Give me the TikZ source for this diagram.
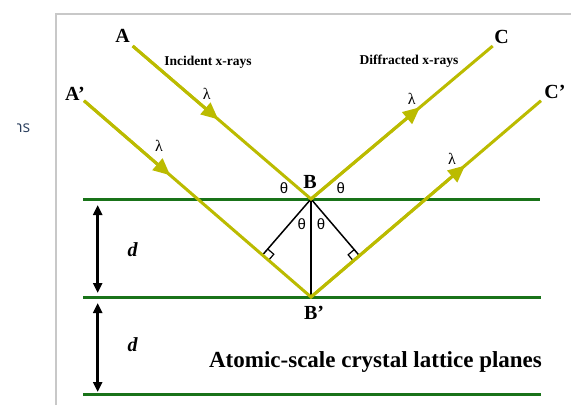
\documentclass[tikz,border=0pt]{standalone}
\usepackage{fontspec}
\setmainfont{Liberation Serif}
\newfontfamily\thsans{Liberation Sans}
\newfontfamily\uisans{Open Sans}
\usetikzlibrary{calc,arrows.meta}
\definecolor{rayc}{RGB}{187,187,0}
\definecolor{planec}{RGB}{25,115,25}
\definecolor{framec}{RGB}{200,200,200}
\definecolor{uic}{RGB}{45,65,95}
\tikzset{
  ray/.style={draw=rayc, line width=3pt},
  raytip/.style={draw=rayc, line width=3pt, -{Triangle[length=17pt,width=15pt]}},
  plane/.style={draw=planec, line width=3pt},
  perp/.style={draw=black, line width=1.5pt},
  darrow/.style={draw=black, line width=2.5pt, {Triangle[length=10pt,width=9pt]}-{Triangle[length=10pt,width=9pt]}},
  ptlabel/.style={font=\fontsize{20}{20}\selectfont\bfseries, inner sep=0pt},
  lam/.style={font=\fontsize{16}{16}\selectfont, inner sep=0pt},
  th/.style={font=\thsans\fontsize{15}{15}\selectfont, inner sep=0pt},
  small/.style={font=\fontsize{13.5}{13.5}\selectfont\bfseries, inner sep=0pt},
  dlab/.style={font=\fontsize{20}{20}\selectfont\bfseries\itshape, inner sep=0pt}
}
\begin{document}
\begin{tikzpicture}[x=1pt,y=-1pt]
\useasboundingbox (0,0) rectangle (571,405);
% frame
\draw[draw=framec, line width=1.5pt] (56,405) -- (56,14) -- (571,14);
\begin{scope}
\clip (17,100) rectangle (40,150);
\node[anchor=base east, text=uic, font=\uisans\fontsize{16}{16}\selectfont, inner sep=0pt] (ns) at (30.5,132) {ns};
\end{scope}
% key points
\coordinate (A0) at (132.7,46);
\coordinate (Ap) at (84,100.7);
\coordinate (B) at (311,199);
\coordinate (Bp) at (311,297);
\coordinate (C0) at (492.7,46);
\coordinate (Cp) at (541,100.7);
% planes
\coordinate (P1l) at (83,199); \coordinate (P1r) at (540,199);
\coordinate (P2l) at (83,297); \coordinate (P2r) at (541,297);
\coordinate (P3l) at (83,394); \coordinate (P3r) at (541,394);
\draw[plane] (P1l) -- (P1r);
\draw[plane] (P2l) -- (P2r);
\draw[plane] (P3l) -- (P3r);
% perpendiculars
\coordinate (F1) at ($(Ap)!(B)!(Bp)$);
\coordinate (F2) at ($(Cp)!(B)!(Bp)$);
\draw[perp] (B) -- (Bp);
\draw[perp] (B) -- (F1);
\draw[perp] (B) -- (F2);
\draw[perp, line width=1.2pt] ($(F1)!8pt!(Bp)$) -- ($($(F1)!8pt!(Bp)$)+($(F1)!8pt!(B)$)-(F1)$) -- ($(F1)!8pt!(B)$);
\draw[perp, line width=1.2pt] ($(F2)!8pt!(Bp)$) -- ($($(F2)!8pt!(Bp)$)+($(F2)!8pt!(B)$)-(F2)$) -- ($(F2)!8pt!(B)$);
% rays
\draw[ray] (A0) -- (B) -- (C0);
\draw[ray] (Ap) -- (Bp) -- (Cp);
\draw[raytip] (A0) -- ($(A0)!0.48!(B)$);
\draw[raytip] (Ap) -- ($(Ap)!0.38!(Bp)$);
\draw[raytip] (B) -- ($(B)!0.6!(C0)$);
\draw[raytip] (Bp) -- ($(Bp)!0.67!(Cp)$);
% d arrows
\coordinate (D1t) at (97.7,205); \coordinate (D1b) at (97.7,293);
\coordinate (D2t) at (97.7,303); \coordinate (D2b) at (97.7,392);
\draw[darrow] (D1t) -- (D1b);
\draw[darrow] (D2t) -- (D2b);
\node[dlab] (d1) at (132.7,250) {d};
\node[dlab] (d2) at (132.7,345) {d};
% labels
\node[ptlabel] (lA) at (122.7,36) {A};
\node[ptlabel] (lAp) at (75,94) {A’};
\node[ptlabel] (lC) at (501.7,37) {C};
\node[ptlabel] (lCp) at (555,92) {C’};
\node[ptlabel] (lB) at (310,182) {B};
\node[ptlabel] (lBp) at (314,313) {B’};
\node[small] (inc) at (208,62.5) {Incident x-rays};
\node[small] (dif) at (409,61.5) {Diffracted x-rays};
\node[lam] (l1) at (206.7,94) {λ};
\node[lam] (l2) at (159,146) {λ};
\node[lam] (l3) at (411.7,99) {λ};
\node[lam] (l4) at (452,159) {λ};
\node[th] (t1) at (284,188.5) {θ};
\node[th] (t2) at (340.7,188.5) {θ};
\node[th] (t3) at (301.7,224.5) {θ};
\node[th] (t4) at (321,224.5) {θ};
\node[font=\fontsize{23}{23}\selectfont\bfseries, inner sep=0pt] (cap) at (375.5,361.5) {Atomic-scale crystal lattice planes};
\end{tikzpicture}
\end{document}
